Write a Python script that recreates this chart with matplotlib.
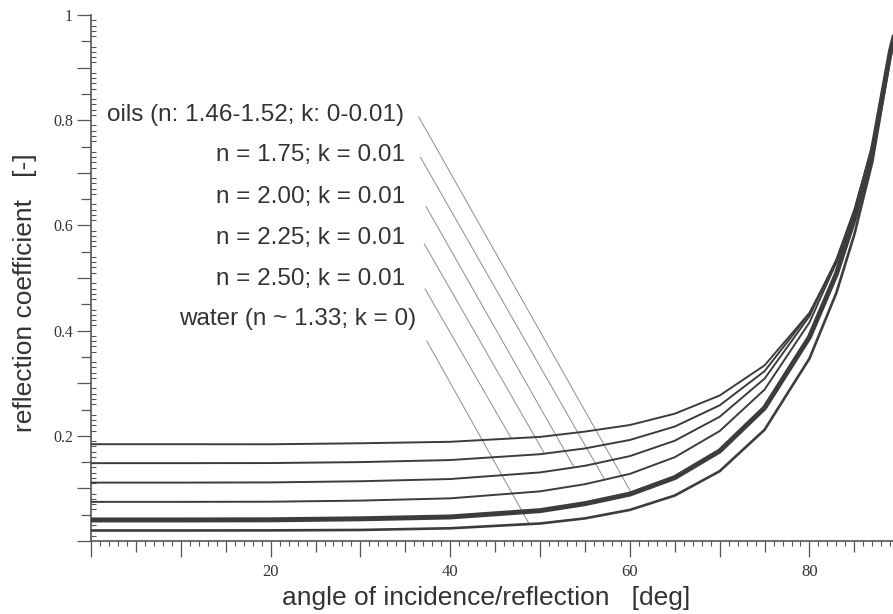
import numpy as np
import matplotlib
matplotlib.use("Agg")
import matplotlib.pyplot as plt
from matplotlib.ticker import MultipleLocator, FuncFormatter

# angle of incidence [deg] and reflection coefficient
angle = [0, 10, 20, 30, 40, 50, 55, 60, 65, 70, 75, 80, 83, 85, 87, 89, 90]
water = [0.020, 0.020, 0.0202, 0.021, 0.0242, 0.0333, 0.043, 0.0591, 0.0864, 0.1327,
         0.2115, 0.347, 0.472, 0.583, 0.721, 0.92, 1.0]
oils = [0.040, 0.040, 0.0403, 0.0422, 0.0457, 0.0577, 0.071, 0.0892, 0.1205, 0.1711,
        0.2531, 0.3878, 0.508, 0.613, 0.742, 0.93, 1.0]
n175 = [0.0744, 0.0744, 0.0747, 0.0768, 0.0811, 0.0944, 0.108, 0.1276, 0.1593, 0.209,
        0.2879, 0.4156, 0.5295, 0.628, 0.752, 0.93, 1.0]
n200 = [0.111, 0.111, 0.1114, 0.1136, 0.1178, 0.1304, 0.143, 0.1614, 0.1906, 0.2362,
        0.3087, 0.4274, 0.5351, 0.630, 0.751, 0.93, 1.0]
n225 = [0.148, 0.148, 0.1482, 0.150, 0.1539, 0.165, 0.176, 0.1921, 0.2176, 0.2579,
        0.3229, 0.4322, 0.5341, 0.626, 0.745, 0.93, 1.0]
n250 = [0.184, 0.184, 0.1839, 0.1858, 0.1886, 0.1979, 0.208, 0.2205, 0.242, 0.2766,
        0.3339, 0.4337, 0.530, 0.619, 0.738, 0.93, 1.0]

labels = ['oils (n: 1.46-1.52; k: 0-0.01)', 'n = 1.75; k = 0.01', 'n = 2.00; k = 0.01',
          'n = 2.25; k = 0.01', 'n = 2.50; k = 0.01', 'water (n ~ 1.33; k = 0)']
series = [oils, n175, n200, n225, n250, water]

# where the labels sit and where their leader lines start / hit the curve
label_x = [34.9, 35.0, 35.0, 35.0, 35.0, 36.2]
label_y = [0.810, 0.734, 0.654, 0.576, 0.498, 0.422]
lead_x0 = [36.5, 36.7, 37.3, 37.1, 37.2, 37.4]
lead_y0 = [0.806, 0.729, 0.636, 0.565, 0.479, 0.380]
lead_x1 = [60.2, 57.2, 53.8, 50.5, 46.8, 48.8]

curve_col = '#3c3c3c'
axis_col = '#555555'

fig = plt.figure(figsize=(8.93, 6.14), dpi=100)
ax = fig.add_axes([91 / 893, 73 / 614, 802 / 893, 526 / 614])

widths = [3.6, 1.4, 1.4, 1.4, 1.4, 1.9]
for ys, lw in zip(series, widths):
    ax.plot(angle, ys, color=curve_col, lw=lw, solid_capstyle='round',
            solid_joinstyle='round', zorder=3)

for i, txt in enumerate(labels):
    ax.text(label_x[i], label_y[i], txt, ha='right', va='center', fontsize=17.5,
            family='Liberation Sans', color='#333333')
    y1 = np.interp(lead_x1[i], angle, series[i])
    ax.plot([lead_x0[i], lead_x1[i]], [lead_y0[i], y1], color='#8c8c8c', lw=0.7, zorder=2)

ax.set_xlim(0, 89.3)
ax.set_ylim(0, 1)

for s in ['top', 'right']:
    ax.spines[s].set_visible(False)
for s in ['left', 'bottom']:
    ax.spines[s].set_color(axis_col)
    ax.spines[s].set_linewidth(1.2)

ax.xaxis.set_major_locator(MultipleLocator(5))
ax.xaxis.set_minor_locator(MultipleLocator(1))
ax.yaxis.set_major_locator(MultipleLocator(0.05))
ax.yaxis.set_minor_locator(MultipleLocator(0.01))


def xfmt(v, pos):
    k = int(round(v))
    return str(k) if k > 0 and k % 20 == 0 else ''


def yfmt(v, pos):
    k = int(round(v * 100))
    return '%g' % (k / 100) if k > 0 and k % 20 == 0 else ''


ax.xaxis.set_major_formatter(FuncFormatter(xfmt))
ax.yaxis.set_major_formatter(FuncFormatter(yfmt))

ax.tick_params(axis='x', which='major', direction='out', length=11.5, width=0.9,
               color=axis_col, pad=5, labelsize=12, labelcolor='#333333')
ax.tick_params(axis='x', which='minor', direction='out', length=3.6, width=0.8, color=axis_col)
ax.tick_params(axis='y', which='major', direction='out', length=10, width=0.9,
               color=axis_col, pad=3, labelsize=11.5, labelcolor='#333333')
ax.tick_params(axis='y', which='minor', direction='in', length=3.6, width=0.8, color=axis_col)

for lab in ax.get_xticklabels() + ax.get_yticklabels():
    lab.set_family('Liberation Serif')

# shorter ticks at the half steps
for t, loc in zip(ax.xaxis.get_major_ticks(), ax.get_xticks()):
    if int(round(loc)) % 10:
        t.tick1line.set_markersize(8)
for t, loc in zip(ax.yaxis.get_major_ticks(), ax.get_yticks()):
    if int(round(loc * 100)) % 10:
        t.tick1line.set_markersize(7)

fig.text(486 / 893, 1 - 598 / 614, 'angle of incidence/reflection   [deg]', ha='center',
         va='center', fontsize=19, family='Liberation Sans', color='#333333')
fig.text(25 / 893, 1 - 293 / 614, 'reflection coefficient   [-]', ha='center', va='center',
         rotation=90, fontsize=19, family='Liberation Sans', color='#333333')

fig.savefig('out.png', dpi=100)
